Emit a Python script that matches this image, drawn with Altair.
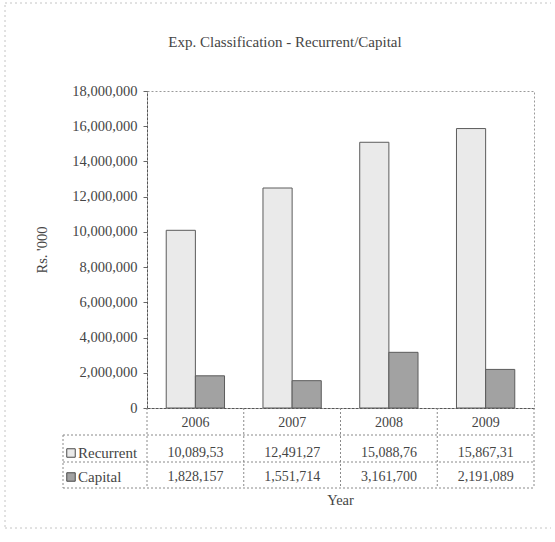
import altair as alt
import pandas as pd

# Expenditure classification, Rs. '000
years = ["2006", "2007", "2008", "2009"]
series = ["Recurrent", "Capital"]
recurrent = [10089530, 12491270, 15088760, 15867310]
capital = [1828157, 1551714, 3161700, 2191089]
y_ticks = [0, 2000000, 4000000, 6000000, 8000000,
           10000000, 12000000, 14000000, 16000000, 18000000]
fills = ["#eaeaea", "#a2a2a2"]

FONT = "Liberation Serif"
INK = "#454545"
W, H = 387, 317          # plot area
ROW_Y = {"year": H + 15, "Recurrent": H + 45, "Capital": H + 69}
LINES_Y = [H + 27, H + 54, H + 80]
LEG_X = -84

rows = []
for i, yr in enumerate(years):
    # the value column is too narrow for the last digit of the recurrent figures
    rows.append({"year": yr, "series": "Recurrent", "value": recurrent[i],
                 "label": f"{recurrent[i]:,}"[:-1]})
    rows.append({"year": yr, "series": "Capital", "value": capital[i],
                 "label": f"{capital[i]:,}"})
df = pd.DataFrame(rows)
one = alt.Data(values=[{}])

x_band = alt.X("year:N", sort=years,
               scale=alt.Scale(paddingInner=0, paddingOuter=0),
               axis=alt.Axis(title=None, labels=False, ticks=False,
                             domainColor="#555555", domainDash=[3, 1]))

bars = alt.Chart(df).mark_bar(stroke="#5c5c5c", strokeWidth=1).encode(
    x=x_band,
    xOffset=alt.XOffset("series:N", sort=series,
                        scale=alt.Scale(domain=series, paddingInner=0, paddingOuter=0.66)),
    y=alt.Y("value:Q", scale=alt.Scale(domain=[0, 18000000], nice=False),
            axis=alt.Axis(values=y_ticks, format=",d", title="Rs. '000", grid=False,
                          tickSize=4, tickColor="#666666", labelPadding=6,
                          domainColor="#555555", domainDash=[3, 1],
                          titlePadding=22)),
    color=alt.Color("series:N", scale=alt.Scale(domain=series, range=fills), legend=None),
)

title = alt.Chart(one).mark_text(font=FONT, fontSize=15, color=INK,
                                 align="center", baseline="middle").encode(
    x=alt.value(138), y=alt.value(-49),
    text=alt.value("Exp. Classification - Recurrent/Capital"))

year_text = alt.Chart(df[df.series == "Recurrent"]).mark_text(
    font=FONT, fontSize=14, color=INK, baseline="middle").encode(
    x=alt.X("year:N", sort=years), y=alt.value(ROW_Y["year"]), text="year:N")

value_rows = []
swatches = []
for s, fill in zip(series, fills):
    value_rows.append(
        alt.Chart(df[df.series == s]).mark_text(
            font=FONT, fontSize=14, color=INK, baseline="middle").encode(
            x=alt.X("year:N", sort=years), y=alt.value(ROW_Y[s]), text="label:N"))
    swatches.append(
        alt.Chart(one).mark_square(size=72, fill=fill, stroke="#4a4a4a",
                                   strokeWidth=1, opacity=1).encode(
            x=alt.value(LEG_X + 8), y=alt.value(ROW_Y[s])))
    swatches.append(
        alt.Chart(one).mark_text(font=FONT, fontSize=15, color=INK,
                                 align="left", baseline="middle").encode(
            x=alt.value(LEG_X + 15), y=alt.value(ROW_Y[s]), text=alt.value(s)))

grid_style = dict(color="#8a8a8a", strokeWidth=1, strokeDash=[2, 2])
col_lines = alt.Chart(df[df.series == "Recurrent"]).mark_rule(**grid_style).encode(
    x=alt.X("year:N", sort=years, bandPosition=0),
    y=alt.value(H), y2=alt.value(H + 80))
right_line = alt.Chart(one).mark_rule(**grid_style).encode(
    x=alt.value(W), y=alt.value(H), y2=alt.value(H + 80))
leg_line = alt.Chart(one).mark_rule(**grid_style).encode(
    x=alt.value(LEG_X), y=alt.value(H + 27), y2=alt.value(H + 80))
row_lines = [alt.Chart(one).mark_rule(**grid_style).encode(
    x=alt.value(LEG_X), x2=alt.value(W), y=alt.value(v)) for v in LINES_Y]

x_title = alt.Chart(one).mark_text(font=FONT, fontSize=14.5, color=INK,
                                   baseline="middle").encode(
    x=alt.value(W / 2), y=alt.value(H + 93), text=alt.value("Year"))

frame_style = dict(color="#c4c4c4", strokeWidth=1, strokeDash=[2, 3])
frame = [
    alt.Chart(one).mark_rule(**frame_style).encode(
        x=alt.value(-142), y=alt.value(-86), y2=alt.value(437)),
    alt.Chart(one).mark_rule(**frame_style).encode(
        x=alt.value(-142), x2=alt.value(404), y=alt.value(-88)),
    alt.Chart(one).mark_rule(**frame_style).encode(
        x=alt.value(-142), x2=alt.value(404), y=alt.value(437)),
]

chart = alt.layer(
    *frame, bars, title, year_text, *value_rows, *swatches,
    col_lines, right_line, leg_line, *row_lines, x_title,
).properties(
    width=W, height=H,
    autosize=alt.AutoSizeParams(type="none"),
    padding={"left": 147, "top": 91, "right": 555 - 147 - W, "bottom": 542 - 91 - H},
    background="white",
).configure_view(
    stroke="#9a9a9a", strokeDash=[2, 2], strokeWidth=1,
).configure_axis(
    labelFont=FONT, titleFont=FONT, labelFontSize=14.5, titleFontSize=14.5,
    labelColor=INK, titleColor=INK, titleFontWeight="normal",
)

chart.save("out.html", embed_options={"renderer": "svg", "actions": False})
